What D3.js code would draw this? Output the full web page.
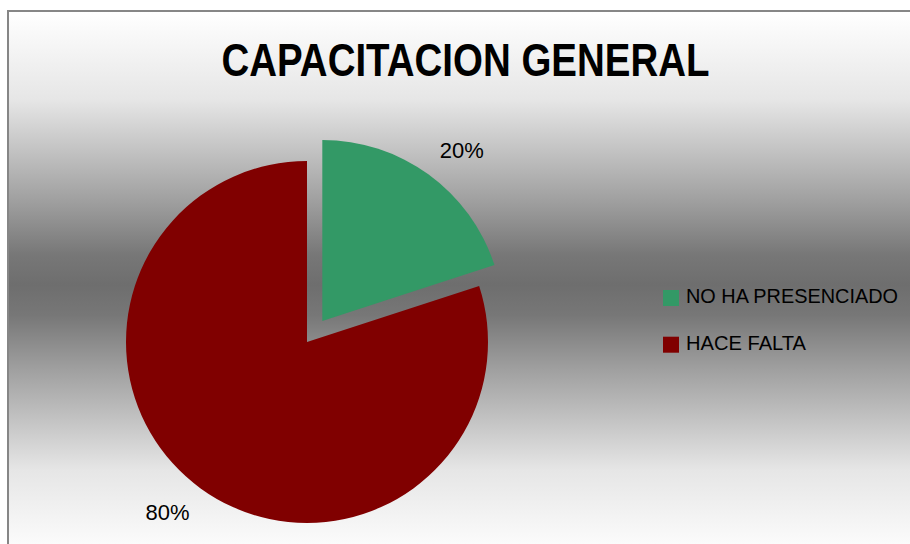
<!DOCTYPE html>
<html><head><meta charset="utf-8">
<script src="https://cdn.jsdelivr.net/npm/d3@7"></script>
<style>html,body{margin:0;padding:0;background:#fff;overflow:hidden}</style>
</head><body>
<svg id="c" width="910" height="544"></svg>
<script>
const title = "CAPACITACION GENERAL";
const categories = ["NO HA PRESENCIADO", "HACE FALTA"];
const values = [20, 80];
const colors = ["#339966", "#800000"];
const labels = ["20%", "80%"];

const svg = d3.select("#c");
const defs = svg.append("defs");
const grad = defs.append("linearGradient").attr("id","bg").attr("gradientUnits","userSpaceOnUse")
  .attr("x1",0).attr("y1",11).attr("x2",0).attr("y2",559);
[[0,"#ffffff"],[0.162,"#e6e6e6"],[0.345,"#a0a0a0"],[0.445,"#777777"],[0.5,"#6e6e6e"],
 [0.555,"#777777"],[0.655,"#a0a0a0"],[0.838,"#e6e6e6"],[1,"#ffffff"]]
  .forEach(([o,c])=>grad.append("stop").attr("offset",o).attr("stop-color",c));

svg.append("rect").attr("x",8).attr("y",11).attr("width",920).attr("height",550)
  .attr("fill","url(#bg)").attr("stroke","#868686").attr("stroke-width",2);

svg.append("text").attr("x",465.5).attr("y",76).attr("text-anchor","middle")
  .attr("font-family","'Liberation Sans Narrow','Liberation Sans',sans-serif").attr("font-weight","bold")
  .attr("font-size",46).attr("textLength",488).attr("lengthAdjust","spacingAndGlyphs")
  .attr("fill","#000").text(title);

const cx = 307, cy = 342, r = 181, explode = 26, labelR = 200;
const pie = d3.pie().sort(null).value(d=>d)(values);
const arc = d3.arc().innerRadius(0).outerRadius(r);
const g = svg.append("g").attr("transform",`translate(${cx},${cy})`);
pie.forEach((p,i)=>{
  const mid = (p.startAngle+p.endAngle)/2;
  const off = i===0 ? explode : 0;
  const ox = off*Math.sin(mid), oy = -off*Math.cos(mid);
  g.append("path").attr("d",arc(p)).attr("fill",colors[i])
    .attr("transform",`translate(${ox},${oy})`);
  const lx = ox + labelR*Math.sin(mid), ly = oy - labelR*Math.cos(mid);
  const top = Math.cos(mid) > 0;
  g.append("text").attr("x",lx).attr("y", top ? ly - 1 : ly + 16)
    .attr("text-anchor", Math.sin(mid) > 0 ? "start" : "end")
    .attr("font-family","'Liberation Sans',sans-serif").attr("font-size",22)
    .attr("textLength",44).attr("lengthAdjust","spacingAndGlyphs")
    .attr("fill","#000").text(labels[i]);
});

const leg = svg.append("g").attr("transform","translate(663,290)");
const legLens = [212, 120];
categories.forEach((c,i)=>{
  const row = leg.append("g").attr("transform",`translate(0,${i*46.7})`);
  row.append("rect").attr("width",16).attr("height",16).attr("fill",colors[i]);
  row.append("text").attr("x",23).attr("y",13).attr("font-family","'Liberation Sans',sans-serif")
    .attr("font-size",21).attr("textLength",legLens[i]).attr("lengthAdjust","spacingAndGlyphs")
    .attr("fill","#000").text(c);
});
</script>
</body></html>
